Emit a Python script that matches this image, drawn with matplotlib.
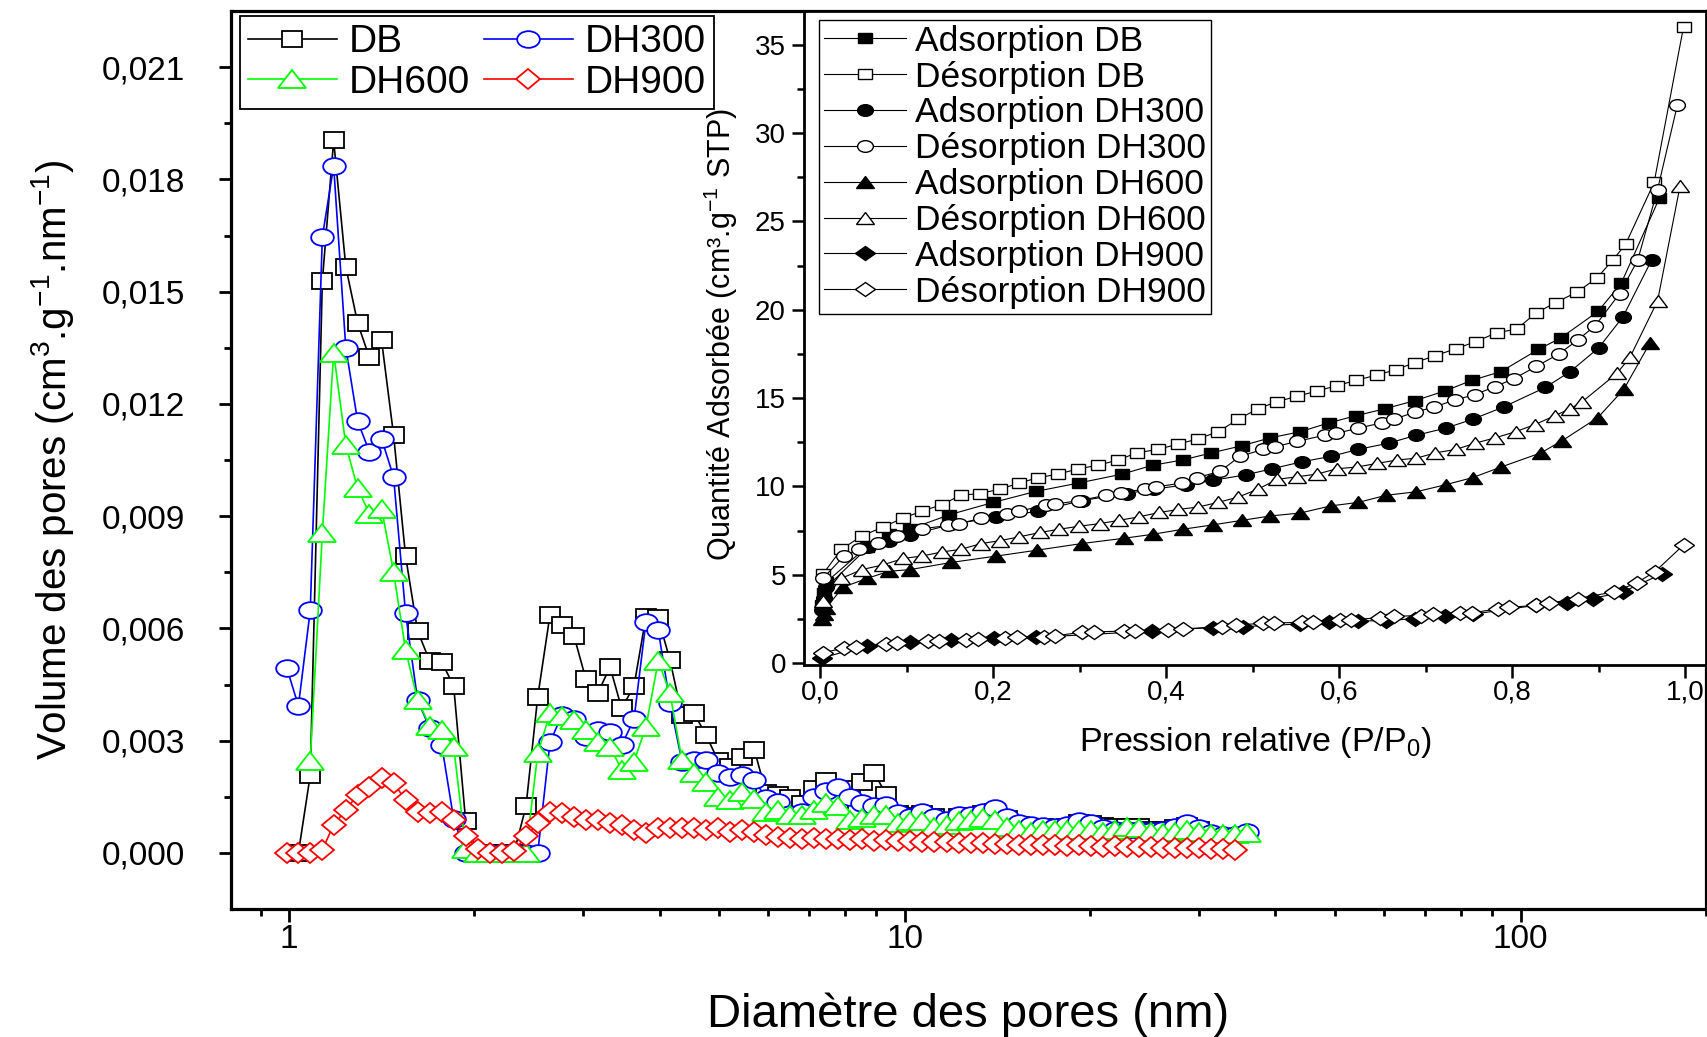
import numpy as np
import matplotlib
matplotlib.use('Agg')
import matplotlib.pyplot as plt
from matplotlib.markers import MarkerStyle
from matplotlib.transforms import Affine2D
from matplotlib.ticker import FuncFormatter, FixedLocator, LogLocator, NullFormatter

plt.rcParams['font.family'] = ['Liberation Sans', 'DejaVu Sans']
plt.rcParams['mathtext.fontset'] = 'custom'
plt.rcParams['mathtext.rm'] = 'Liberation Sans'
plt.rcParams['mathtext.it'] = 'Liberation Sans:italic'
plt.rcParams['mathtext.bf'] = 'Liberation Sans:bold'
plt.rcParams['mathtext.default'] = 'regular'

nan = np.nan

# ---------------- main chart data (pore size distribution) ----------------
diam = [0.993, 1.037, 1.084, 1.134, 1.183, 1.238, 1.294, 1.352, 1.415, 1.480,
        1.548, 1.619, 1.694, 1.772, 1.853, 1.938, 2.028, 2.121, 2.219, 2.321,
        2.428, 2.537, 2.656, 2.775, 2.905, 3.038, 3.174, 3.324, 3.472, 3.636,
        3.802, 3.981, 4.16, 4.35, 4.55, 4.76, 4.98, 5.21, 5.45, 5.70,
        5.96, 6.23, 6.52, 6.82, 7.13, 7.46, 7.80, 8.16, 8.54, 8.93,
        9.34, 9.77, 10.22, 10.69, 11.18, 11.70, 12.24, 12.80, 13.39, 14.00,
        14.65, 15.32, 16.03, 16.76, 17.53, 18.34, 19.18, 20.07, 20.99, 21.96,
        22.97, 24.02, 25.13, 26.28, 27.49, 28.76, 30.08, 31.47, 32.91, 34.43,
        36.01]

vol_DB = [nan, 0.0, 0.00208, 0.01528, 0.01904, 0.01566, 0.01416, 0.01324, 0.0137, 0.01117,
          0.00793, 0.00593, 0.00513, 0.0051, 0.00446, 0.00084, 0.0, 0.0, 0.0, 0.0,
          0.00124, 0.00417, 0.00636, 0.00609, 0.0058, 0.00464, 0.00426, 0.00497, 0.00386, 0.00446,
          0.00631, 0.00627, 0.00515, 0.00368, 0.00373, 0.00315, 0.00246, 0.0023, 0.00255, 0.00276,
          0.0016, 0.00155, 0.00146, 0.0013, 0.0017, 0.00193, 0.0014, 0.0017, 0.0019, 0.00213,
          0.00155, 0.00105, 0.00098, 0.00105, 0.00095, 0.00085, 0.00095, 0.00098, 0.00105, 0.0011,
          0.0009, 0.00075, 0.0007, 0.00068, 0.00066, 0.0007, 0.0008, 0.00078, 0.00072, 0.00068,
          0.00068, 0.0007, 0.00062, 0.00062, 0.00066, 0.00072, 0.00062, nan, nan, nan,
          nan]

vol_DH300 = [0.00494, 0.00393, 0.00648, 0.01646, 0.01836, 0.0135, 0.01154, 0.01072, 0.01107, 0.01005,
             0.0064, 0.00409, 0.00333, 0.00288, 0.0009, 0.0, 0.0, 0.0, 0.0, 0.0,
             0.0, 0.0, 0.00295, 0.00368, 0.00357, 0.0031, 0.00328, 0.00324, 0.00288, 0.00357,
             0.00618, 0.00595, 0.004, 0.00244, 0.00248, 0.00248, 0.00213, 0.00204, 0.00208, 0.00195,
             0.00146, 0.00137, 0.00105, 0.0011, 0.0015, 0.00166, 0.00177, 0.00148, 0.00133, 0.00126,
             0.00128, 0.00106, 0.00097, 0.0011, 0.00097, 0.00088, 0.00101, 0.00101, 0.0011, 0.00119,
             0.00097, 0.0008, 0.00075, 0.00072, 0.0007, 0.00075, 0.00084, 0.0008, 0.00066, 0.0006,
             0.0006, 0.00062, 0.00058, 0.00062, 0.0007, 0.0008, 0.00066, 0.00053, 0.00048, 0.00048,
             0.00057]

vol_DH600 = [nan, nan, 0.00246, 0.00854, 0.01337, 0.0109, 0.00974, 0.00907, 0.0092, 0.00751,
             0.00542, 0.00409, 0.00339, 0.00328, 0.00284, 0.0001, 0.0, 0.0, 0.0, 0.0,
             0.0, 0.00266, 0.00373, 0.00366, 0.00355, 0.00328, 0.00297, 0.00284, 0.00222, 0.00244,
             0.00337, 0.00513, 0.00426, 0.00248, 0.00213, 0.0019, 0.0015, 0.00142, 0.00164, 0.00144,
             0.0011, 0.00115, 0.00101, 0.00101, 0.00115, 0.00133, 0.00124, 0.00088, 0.00093, 0.00101,
             0.00101, 0.00079, 0.00084, 0.00084, 0.0007, 0.00075, 0.00084, 0.00088, 0.00093, 0.00088,
             0.00068, 0.0006, 0.00057, 0.0006, 0.0006, 0.0006, 0.0006, 0.0006, 0.00057, 0.0006,
             0.0007, 0.00066, 0.00057, 0.00053, 0.00057, 0.0006, 0.00057, 0.0005, 0.0005, 0.0005,
             0.00053]

vol_DH900 = [0.0, 0.0, 0.0, 0.00008, 0.00075, 0.00115, 0.00155, 0.00177, 0.002, 0.00186,
             0.00142, 0.0011, 0.00106, 0.0011, 0.00088, 0.00044, 0.0001, 0.0, 0.0, 0.00005,
             0.00044, 0.00079, 0.0011, 0.00106, 0.00097, 0.00088, 0.00088, 0.00079, 0.00075, 0.00061,
             0.00053, 0.00066, 0.00066, 0.00066, 0.00066, 0.00061, 0.00066, 0.00057, 0.00061, 0.00057,
             0.00047, 0.00042, 0.0004, 0.00038, 0.0004, 0.00038, 0.00036, 0.00035, 0.00036, 0.00033,
             0.00034, 0.00031, 0.00032, 0.0003, 0.00028, 0.00029, 0.00027, 0.00026, 0.00027, 0.00025,
             0.00024, 0.00022, 0.00021, 0.00022, 0.0002, 0.00019, 0.0002, 0.00018, 0.00017, 0.00018,
             0.00016, 0.00015, 0.00016, 0.00014, 0.00013, 0.00014, 0.00012, 0.00011, 0.0001, 0.00009,
             nan]

main_labels = ['DB', 'DH300', 'DH600', 'DH900']
main_colors = ['black', '#0000ff', '#00ff00', '#ff0000']

y_major = [0.0, 0.003, 0.006, 0.009, 0.012, 0.015, 0.018, 0.021]
y_minor = [0.0015, 0.0045, 0.0075, 0.0105, 0.0135, 0.0165, 0.0195]

# ---------------- inset data (isotherms) ----------------
adsDB_x = [0.002, 0.004, 0.007, 0.054, 0.079, 0.104, 0.149, 0.2, 0.249, 0.299, 0.349, 0.384,
           0.419, 0.452, 0.487, 0.52, 0.555, 0.588, 0.619, 0.653, 0.687, 0.722, 0.753, 0.787,
           0.83, 0.856, 0.899, 0.926, 0.97]
adsDB_y = [3.3, 4.0, 4.6, 6.6, 7.3, 7.6, 8.4, 9.1, 9.72, 10.2, 10.7, 11.2,
           11.5, 11.9, 12.3, 12.75, 13.1, 13.6, 14.0, 14.4, 14.85, 15.4, 16.0, 16.5,
           17.75, 18.4, 19.9, 21.5, 26.3]

desDB_x = [0.003, 0.024, 0.048, 0.072, 0.095, 0.117, 0.14, 0.162, 0.184, 0.208, 0.23, 0.252,
           0.275, 0.298, 0.321, 0.344, 0.366, 0.39, 0.414, 0.437, 0.46, 0.483, 0.506, 0.528,
           0.551, 0.574, 0.597, 0.619, 0.643, 0.665, 0.687, 0.711, 0.735, 0.758, 0.782, 0.805,
           0.827, 0.85, 0.875, 0.898, 0.916, 0.931, 0.964, 0.998]
desDB_y = [5.05, 6.44, 7.2, 7.7, 8.2, 8.6, 8.96, 9.5, 9.6, 9.85, 10.2, 10.5,
           10.7, 11.0, 11.2, 11.5, 11.9, 12.1, 12.4, 12.7, 13.1, 13.8, 14.4, 14.8,
           15.1, 15.4, 15.7, 16.0, 16.3, 16.6, 17.0, 17.4, 17.8, 18.2, 18.7, 18.9,
           19.8, 20.4, 21.0, 21.8, 22.8, 23.7, 27.2, 36.0]

ads300_x = [0.002, 0.004, 0.007, 0.055, 0.079, 0.104, 0.151, 0.203, 0.252, 0.302, 0.354, 0.386,
            0.423, 0.454, 0.492, 0.522, 0.557, 0.59, 0.622, 0.657, 0.689, 0.723, 0.754, 0.79,
            0.838, 0.867, 0.9, 0.928, 0.961]
ads300_y = [3.0, 3.7, 4.3, 6.56, 6.94, 7.25, 7.85, 8.26, 8.6, 9.2, 9.6, 9.85,
            10.1, 10.35, 10.66, 11.0, 11.4, 11.7, 12.1, 12.45, 12.9, 13.3, 13.8, 14.5,
            15.6, 16.5, 17.85, 19.6, 22.8]

des300_x = [0.003, 0.027, 0.045, 0.067, 0.089, 0.117, 0.148, 0.16, 0.186, 0.216, 0.23, 0.261,
            0.271, 0.299, 0.33, 0.347, 0.375, 0.388, 0.418, 0.436, 0.462, 0.485, 0.512, 0.526,
            0.551, 0.583, 0.596, 0.622, 0.649, 0.663, 0.687, 0.71, 0.734, 0.757, 0.78, 0.802,
            0.828, 0.854, 0.876, 0.896, 0.924, 0.945, 0.968, 0.991]
des300_y = [4.8, 6.06, 6.44, 6.8, 7.2, 7.6, 7.8, 7.9, 8.2, 8.46, 8.6, 8.96,
            9.0, 9.2, 9.5, 9.65, 9.85, 9.97, 10.2, 10.5, 10.86, 11.7, 12.1, 12.25,
            12.55, 12.9, 13.0, 13.3, 13.6, 13.8, 14.2, 14.5, 14.9, 15.2, 15.65, 16.1,
            16.8, 17.5, 18.3, 19.1, 20.9, 22.8, 26.8, 31.6]

ads600_x = [0.002, 0.004, 0.006, 0.026, 0.054, 0.079, 0.104, 0.151, 0.203, 0.251, 0.302, 0.351,
            0.385, 0.419, 0.454, 0.487, 0.52, 0.555, 0.59, 0.622, 0.654, 0.689, 0.723, 0.754,
            0.787, 0.833, 0.858, 0.899, 0.929, 0.959]
ads600_y = [2.5, 2.8, 3.1, 4.3, 4.8, 5.2, 5.3, 5.7, 6.06, 6.4, 6.77, 7.07,
            7.3, 7.58, 7.83, 8.08, 8.33, 8.5, 8.9, 9.1, 9.5, 9.7, 10.1, 10.5,
            11.1, 11.9, 12.6, 13.9, 15.5, 18.1]

des600_x = [0.003, 0.024, 0.048, 0.072, 0.096, 0.117, 0.141, 0.162, 0.186, 0.208, 0.23, 0.254,
            0.276, 0.299, 0.323, 0.345, 0.368, 0.392, 0.414, 0.437, 0.46, 0.483, 0.506, 0.528,
            0.551, 0.574, 0.597, 0.62, 0.643, 0.667, 0.689, 0.711, 0.735, 0.757, 0.78, 0.804,
            0.826, 0.849, 0.867, 0.881, 0.921, 0.936, 0.968, 0.994]
des600_y = [3.5, 4.8, 5.3, 5.56, 5.93, 6.06, 6.3, 6.44, 6.77, 6.94, 7.15, 7.4,
            7.58, 7.75, 7.9, 8.08, 8.28, 8.53, 8.7, 8.84, 9.1, 9.4, 9.85, 10.4,
            10.55, 10.7, 11.0, 11.1, 11.3, 11.5, 11.6, 11.9, 12.1, 12.45, 12.75, 13.1,
            13.5, 14.0, 14.4, 14.8, 16.4, 17.3, 20.5, 27.0]

ads900_x = [0.002, 0.054, 0.103, 0.151, 0.201, 0.249, 0.383, 0.454, 0.489, 0.555, 0.588,
            0.622, 0.654, 0.687, 0.722, 0.755, 0.828, 0.863, 0.893, 0.928, 0.973]
ads900_y = [0.3, 1.0, 1.19, 1.31, 1.44, 1.46, 1.82, 2.02, 2.07, 2.22, 2.32,
            2.4, 2.4, 2.53, 2.65, 2.78, 3.28, 3.4, 3.66, 4.04, 5.05]

des900_x = [0.003, 0.027, 0.041, 0.076, 0.089, 0.124, 0.137, 0.168, 0.182, 0.213, 0.227, 0.258,
            0.271, 0.302, 0.316, 0.351, 0.364, 0.402, 0.419, 0.464, 0.481, 0.512, 0.524, 0.557,
            0.57, 0.601, 0.613, 0.647, 0.663, 0.694, 0.708, 0.739, 0.753, 0.784, 0.796, 0.828,
            0.842, 0.876, 0.918, 0.944, 0.965, 0.998]
des900_y = [0.6, 0.85, 0.94, 1.1, 1.15, 1.24, 1.28, 1.33, 1.37, 1.44, 1.48, 1.5,
            1.55, 1.75, 1.77, 1.82, 1.82, 1.9, 1.94, 2.07, 2.15, 2.27, 2.27, 2.32,
            2.35, 2.45, 2.45, 2.58, 2.65, 2.7, 2.78, 2.85, 2.85, 3.08, 3.16, 3.28,
            3.4, 3.66, 4.04, 4.55, 5.18, 6.69]

inset_labels = ['Adsorption DB', 'Désorption DB', 'Adsorption DH300', 'Désorption DH300',
                'Adsorption DH600', 'Désorption DH600', 'Adsorption DH900', 'Désorption DH900']


def mk(shape, sx):
    return MarkerStyle(shape, transform=Affine2D().scale(sx, 1.0))


W, H = 1708, 1037
fig = plt.figure(figsize=(W / 100, H / 100), dpi=100)

# main axes (pixel geometry of the reference)
L, R, T, B = 231, 1706, 11, 909
ax = fig.add_axes([L / W, 1 - B / H, (R - L) / W, (B - T) / H])

styles = [dict(marker=mk('s', 1.25), ms=11.5),
          dict(marker=mk('o', 1.36), ms=12),
          dict(marker=mk('^', 1.5), ms=13),
          dict(marker=mk('D', 1.15), ms=10.2)]
series = [vol_DB, vol_DH300, vol_DH600, vol_DH900]
handles = []
for vals, lab, col, st in zip(series, main_labels, main_colors, styles):
    h, = ax.plot(diam, vals, color=col, lw=1.2, mfc='white', mec=col, mew=1.3,
                 label=lab, **st)
    handles.append(h)

ax.set_xscale('log')
ax.set_xlim(0.806, 200)
ax.set_ylim(-0.0015, 0.0225)
ax.yaxis.set_major_locator(FixedLocator(y_major))
ax.yaxis.set_minor_locator(FixedLocator(y_minor))
ax.yaxis.set_major_formatter(FuncFormatter(lambda v, p: f"{v:.3f}".replace('.', ',')))
ax.xaxis.set_major_locator(LogLocator(base=10))
ax.xaxis.set_minor_locator(LogLocator(base=10, subs=np.arange(2, 10)))
ax.xaxis.set_major_formatter(FuncFormatter(lambda v, p: f"{v:g}"))
ax.xaxis.set_minor_formatter(NullFormatter())
ax.tick_params(which='both', direction='out', top=False, right=False, width=2.0)
ax.tick_params(which='major', length=9, labelsize=24)
ax.tick_params(axis='x', which='major', pad=2)
ax.tick_params(axis='y', which='major', pad=24)
ax.tick_params(which='minor', length=5)
for s in ax.spines.values():
    s.set_linewidth(2.3)

ax.set_xlabel('Diamètre des pores (nm)', fontsize=34)
ax.xaxis.set_label_coords(0.5, -0.0935)
ax.set_ylabel('Volume des pores (cm$^{3}$.g$^{-1}$.nm$^{-1}$)', fontsize=29)
ax.yaxis.set_label_coords(-0.105, 0.5)

leg = ax.legend([handles[0], handles[2], handles[1], handles[3]],
                [main_labels[0], main_labels[2], main_labels[1], main_labels[3]],
                ncol=2, loc='upper left', bbox_to_anchor=(0.006, 0.994), borderaxespad=0,
                fontsize=28, frameon=True, fancybox=False, edgecolor='black', framealpha=1,
                handlelength=2.3, handletextpad=0.3, columnspacing=0.35, labelspacing=0.12,
                borderpad=0.2, numpoints=1)
leg.get_frame().set_linewidth(1.3)

# inset axes
iL, iR, iT, iB = 804, 1706, 11, 665
ax2 = fig.add_axes([iL / W, 1 - iB / H, (iR - iL) / W, (iB - iT) / H])
ax2.set_facecolor('white')

inset_data = [(adsDB_x, adsDB_y, mk('s', 1.3), 7.6, 'black'),
              (desDB_x, desDB_y, mk('s', 1.3), 7.6, 'white'),
              (ads300_x, ads300_y, mk('o', 1.35), 8.4, 'black'),
              (des300_x, des300_y, mk('o', 1.35), 8.4, 'white'),
              (ads600_x, ads600_y, mk('^', 1.6), 8.4, 'black'),
              (des600_x, des600_y, mk('^', 1.6), 8.4, 'white'),
              (ads900_x, ads900_y, mk('D', 1.45), 6.9, 'black'),
              (des900_x, des900_y, mk('D', 1.45), 6.9, 'white')]
ihandles = []
for (xs, ys, m, ms, fc), lab in zip(inset_data, inset_labels):
    h, = ax2.plot(xs, ys, color='black', lw=0.8, marker=m, ms=ms, mfc=fc, mec='black',
                  mew=1.0, label=lab)
    ihandles.append(h)

ax2.set_xlim(-0.019, 1.024)
ax2.set_ylim(-0.1, 36.9)
ax2.xaxis.set_major_locator(FixedLocator([0.0, 0.2, 0.4, 0.6, 0.8, 1.0]))
ax2.xaxis.set_minor_locator(FixedLocator([0.1, 0.3, 0.5, 0.7, 0.9]))
ax2.yaxis.set_major_locator(FixedLocator([0, 5, 10, 15, 20, 25, 30, 35]))
ax2.yaxis.set_minor_locator(FixedLocator([2.5, 7.5, 12.5, 17.5, 22.5, 27.5, 32.5]))
ax2.xaxis.set_major_formatter(FuncFormatter(lambda v, p: f"{v:.1f}".replace('.', ',')))
ax2.yaxis.set_major_formatter(FuncFormatter(lambda v, p: f"{v:g}"))
ax2.tick_params(which='both', direction='out', top=False, right=False, width=1.8)
ax2.tick_params(which='major', length=9, labelsize=20)
ax2.tick_params(axis='x', which='major', pad=1.5)
ax2.tick_params(axis='y', which='major', pad=4)
ax2.tick_params(which='minor', length=5)
for s in ax2.spines.values():
    s.set_linewidth(2.0)

ax2.set_xlabel('Pression relative (P/P$_{0}$)', fontsize=24.5)
ax2.xaxis.set_label_coords(0.5, -0.092)
ax2.set_ylabel('Quantité Adsorbée (cm³.g$^{-1}$ STP)', fontsize=22)
ax2.yaxis.set_label_coords(-0.071, 0.505)

leg2 = ax2.legend(ihandles, inset_labels, loc='upper left', bbox_to_anchor=(0.0166, 0.987),
                  borderaxespad=0, fontsize=25.5, frameon=True, fancybox=False,
                  edgecolor='black', framealpha=1, handlelength=2.3, handletextpad=0.25,
                  labelspacing=0.08, borderpad=0.15, numpoints=1)
leg2.get_frame().set_linewidth(1.0)

fig.savefig('out.png', dpi=100)
